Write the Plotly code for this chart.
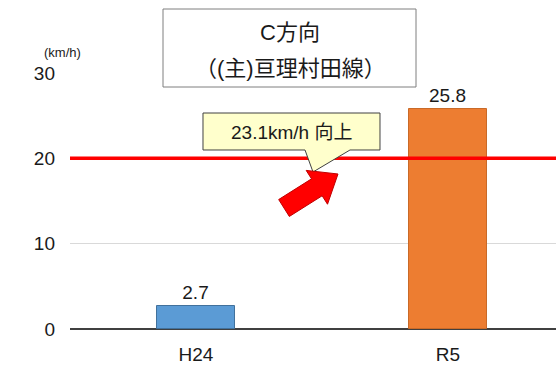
import plotly.graph_objects as go
import math

categories = ["H24", "R5"]
speeds = [2.7, 25.8]
bar_colors = ["#5b9bd5", "#ed7d31"]
target_speed = 20
y_ticks = [0, 10, 20, 30]
title_lines = ["C方向", "（(主)亘理村田線）"]
callout_text = "23.1km/h 向上"
unit_label = "(km/h)"

W, H = 556, 369
L, R, T, B = 70, 0, 73, 40
PW, PH = W - L - R, H - T - B
FONT = "Liberation Sans, Arial, Noto Sans CJK JP, sans-serif"

def px(x):
    return (x - L) / PW

def py(y):
    return (H - B - y) / PH

fig = go.Figure()
fig.add_trace(go.Bar(
    x=[0, 1], y=speeds, width=0.313,
    marker=dict(color=bar_colors, line=dict(color=["#41719c", "#c96a28"], width=1)),
    text=[f"{v:.1f}" for v in speeds], textposition="outside",
    textfont=dict(size=19, color="#1a1a1a", family=FONT),
    cliponaxis=False, hoverinfo="skip",
))

shapes = []
shapes.append(dict(type="line", xref="paper", yref="y", x0=0, x1=1, y0=target_speed, y1=target_speed,
                   line=dict(color="#ff0000", width=3.5), layer="above"))
shapes.append(dict(type="rect", xref="paper", yref="paper", x0=px(163), x1=px(416), y0=py(9), y1=py(87),
                   line=dict(color="#7f7f7f", width=1), fillcolor="white", layer="above"))
pts = [(203, 113), (380, 113), (380, 150), (350, 150), (313, 172), (305, 150), (203, 150)]
path = "M " + " L ".join(f"{px(a):.5f},{py(b):.5f}" for a, b in pts) + " Z"
shapes.append(dict(type="path", xref="paper", yref="paper", path=path,
                   fillcolor="#ffffcc", line=dict(color="#404040", width=1), layer="above"))
Tx, Ty = 284, 208
Px, Py = 338, 174
dx, dy = Px - Tx, Py - Ty
ln = math.hypot(dx, dy)
ux, uy = dx / ln, dy / ln
nx, ny = -uy, ux
Hx, Hy = Px - ux * 25, Py - uy * 25
bw, hw = 10, 20
arr = [(Tx + nx * bw, Ty + ny * bw), (Hx + nx * bw, Hy + ny * bw), (Hx + nx * hw, Hy + ny * hw),
       (Px, Py), (Hx - nx * hw, Hy - ny * hw), (Hx - nx * bw, Hy - ny * bw), (Tx - nx * bw, Ty - ny * bw)]
apath = "M " + " L ".join(f"{px(a):.5f},{py(b):.5f}" for a, b in arr) + " Z"
shapes.append(dict(type="path", xref="paper", yref="paper", path=apath,
                   fillcolor="#ff0000", line=dict(color="#c00000", width=1), layer="above"))

annotations = [
    dict(xref="paper", yref="paper", x=px(290), y=py(32), text=title_lines[0], showarrow=False,
         font=dict(size=22, color="#1a1a1a", family=FONT), xanchor="center", yanchor="middle"),
    dict(xref="paper", yref="paper", x=px(290), y=py(68), text=title_lines[1], showarrow=False,
         font=dict(size=22, color="#1a1a1a", family=FONT), xanchor="center", yanchor="middle"),
    dict(xref="paper", yref="paper", x=px(291), y=py(132), text=callout_text, showarrow=False,
         font=dict(size=19, color="#1a1a1a", family=FONT), xanchor="center", yanchor="middle"),
    dict(xref="paper", yref="paper", x=px(62), y=py(52), text=unit_label, showarrow=False,
         font=dict(size=13, color="#1a1a1a", family=FONT), xanchor="center", yanchor="middle"),
]

fig.update_layout(
    width=W, height=H, margin=dict(l=L, r=R, t=T, b=B),
    paper_bgcolor="white", plot_bgcolor="white", showlegend=False,
    shapes=shapes, annotations=annotations,
    font=dict(family=FONT, size=19, color="#1a1a1a"),
    xaxis=dict(range=[-0.5, -0.5 + PW / 252], tickmode="array", tickvals=[0, 1], ticktext=categories,
               showgrid=False, zeroline=False, showline=False, ticks="", ticklabelstandoff=12,
               tickfont=dict(size=19, color="#1a1a1a", family=FONT)),
    yaxis=dict(range=[0, 30], tickmode="array", tickvals=y_ticks, showgrid=True, gridcolor="#d9d9d9",
               gridwidth=1, zeroline=True, zerolinecolor="#404040", zerolinewidth=1.5,
               showline=False, ticks="", ticklabelstandoff=14,
               tickfont=dict(size=19, color="#1a1a1a", family=FONT)),
    bargap=0,
)

fig.write_html("out.html")
